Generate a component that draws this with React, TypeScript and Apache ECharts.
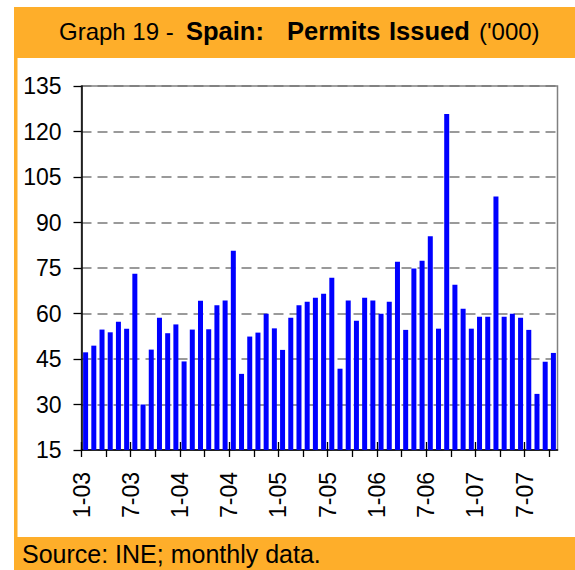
import React, { useEffect, useRef } from "react";
import * as echarts from "echarts";

const months = [
  "1-03", "2-03", "3-03", "4-03", "5-03", "6-03", "7-03", "8-03", "9-03", "10-03", "11-03", "12-03",
  "1-04", "2-04", "3-04", "4-04", "5-04", "6-04", "7-04", "8-04", "9-04", "10-04", "11-04", "12-04",
  "1-05", "2-05", "3-05", "4-05", "5-05", "6-05", "7-05", "8-05", "9-05", "10-05", "11-05", "12-05",
  "1-06", "2-06", "3-06", "4-06", "5-06", "6-06", "7-06", "8-06", "9-06", "10-06", "11-06", "12-06",
  "1-07", "2-07", "3-07", "4-07", "5-07", "6-07", "7-07", "8-07", "9-07", "10-07",
];

const permits = [
  47.2, 49.4, 54.7, 53.8, 57.3, 55.0, 73.1, 30.0, 48.1, 58.6,
  53.5, 56.4, 44.2, 54.7, 64.2, 54.8, 62.7, 64.3, 80.7, 40.1,
  52.4, 53.7, 59.9, 55.1, 48.0, 58.6, 62.7, 63.9, 65.2, 66.5,
  71.8, 41.8, 64.3, 57.6, 65.2, 64.3, 59.9, 63.9, 77.1, 54.6,
  74.8, 77.4, 85.5, 55.0, 125.8, 69.5, 61.6, 55.0, 58.9, 58.9,
  98.6, 58.9, 59.9, 58.6, 54.6, 33.5, 44.1, 47.0,
];

const tickLabels = ["1-03", "7-03", "1-04", "7-04", "1-05", "7-05", "1-06", "7-06", "1-07", "7-07"];
const yTicks = [15, 30, 45, 60, 75, 90, 105, 120, 135];

const FONT = "'Liberation Sans', Arial, Helvetica, sans-serif";
const ORANGE = "#FEAE2A";

export default function App() {
  const ref = useRef<HTMLDivElement>(null);

  useEffect(() => {
    if (!ref.current) return;
    const chart = echarts.init(ref.current, null, { renderer: "svg" });

    const labelPositions = tickLabels.map((l) => months.indexOf(l));
    const minorPositions: number[] = [];
    for (let i = 0; i < months.length; i += 3) minorPositions.push(i);

    const gridRect = { left: 81.5, right: 17.5, top: 86, bottom: 120 };

    chart.setOption({
      animation: false,
      backgroundColor: "#ffffff",
      grid: [
        { ...gridRect, show: true, borderColor: "#808080", borderWidth: 1.5, backgroundColor: "transparent" },
        { ...gridRect, show: false },
      ],
      xAxis: [
        {
          type: "value",
          gridIndex: 0,
          min: 0,
          max: months.length,
          position: "bottom",
          axisLine: { show: true, lineStyle: { color: "#000", width: 1.5 } },
          axisTick: { show: true, length: 7, customValues: minorPositions, lineStyle: { color: "#000", width: 1.3 } },
          axisLabel: {
            show: true,
            customValues: labelPositions,
            formatter: (v: number) => months[Math.round(v)] ?? "",
            rotate: 90,
            fontSize: 23,
            fontFamily: FONT,
            color: "#000",
            margin: 22,
          },
          splitLine: { show: false },
        },
        {
          type: "value",
          gridIndex: 1,
          min: 0,
          max: months.length,
          position: "bottom",
          axisLine: { show: false },
          axisTick: { show: true, inside: true, length: 8, customValues: labelPositions, lineStyle: { color: "#000", width: 1.3 } },
          axisLabel: { show: false },
          splitLine: { show: false },
        },
      ],
      yAxis: [
        {
          type: "value",
          gridIndex: 0,
          min: yTicks[0],
          max: yTicks[yTicks.length - 1],
          interval: 15,
          axisLine: { show: true, lineStyle: { color: "#000", width: 1.5 } },
          axisTick: { show: true, length: 8, lineStyle: { color: "#000", width: 1.3 } },
          axisLabel: { fontSize: 23, fontFamily: FONT, color: "#000", margin: 20 },
          splitLine: { show: true, lineStyle: { color: "#7a7a7a", width: 1.5, type: [10, 6] } },
        },
        {
          type: "value",
          gridIndex: 1,
          min: 0,
          max: 1,
          show: false,
        },
      ],
      graphic: [
        { type: "rect", shape: { x: 14, y: 7, width: 561, height: 51 }, style: { fill: ORANGE }, z: -10, silent: true },
        { type: "rect", shape: { x: 14, y: 7, width: 3.5, height: 563 }, style: { fill: ORANGE }, z: -10, silent: true },
        { type: "rect", shape: { x: 14, y: 537, width: 561, height: 33 }, style: { fill: ORANGE }, z: -10, silent: true },
        { type: "text", x: 59, y: 31, style: { text: "Graph 19 -", font: `normal 24px ${FONT}`, fill: "#000", verticalAlign: "middle", align: "left" } },
        { type: "text", x: 186, y: 31, style: { text: "Spain:", font: `bold 25.5px ${FONT}`, fill: "#000", verticalAlign: "middle", align: "left" } },
        { type: "text", x: 287, y: 31, style: { text: "Permits", font: `bold 25.5px ${FONT}`, fill: "#000", verticalAlign: "middle", align: "left" } },
        { type: "text", x: 389, y: 31, style: { text: "Issued", font: `bold 25.5px ${FONT}`, fill: "#000", verticalAlign: "middle", align: "left" } },
        { type: "text", x: 479, y: 31, style: { text: "('000)", font: `normal 24px ${FONT}`, fill: "#000", verticalAlign: "middle", align: "left" } },
        { type: "text", x: 22, y: 554, style: { text: "Source: INE; monthly data.", font: `normal 25px ${FONT}`, fill: "#000", verticalAlign: "middle", align: "left" } },
      ],
      series: [
        {
          type: "bar",
          xAxisIndex: 0,
          yAxisIndex: 0,
          barWidth: 5,
          itemStyle: { color: "#0000FF" },
          data: permits.map((v, i) => [i + 0.5, v]),
        },
      ],
    });

    return () => chart.dispose();
  }, []);

  return <div ref={ref} style={{ position: "absolute", left: 0, top: 0, width: 575, height: 570 }} />;
}
